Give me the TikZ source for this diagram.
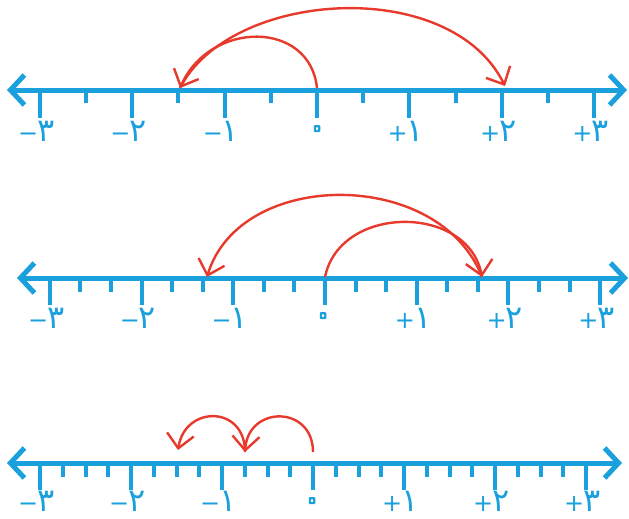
\documentclass[tikz,border=0pt]{standalone}
\usepackage{fontspec}
\usetikzlibrary{arrows.meta}
\newfontfamily\arfont[Script=Arabic]{DejaVu Sans}
\newfontfamily\signfont{DejaVu Sans}
\definecolor{axblue}{RGB}{26,160,220}
\definecolor{arcred}{RGB}{232,58,44}
\newcommand\dig[1]{{\arfont\fontsize{32}{32}\selectfont #1}}
\newcommand\hollowzero{\special{pdf:literal direct 1 Tr 1 j 2.2 w}{\arfont\fontsize{40}{40}\selectfont ٠}\special{pdf:literal direct 0 Tr 0 j}}
\tikzset{
  axisline/.style={draw=axblue, line width=5pt,
    {Straight Barb[length=14pt,width=30pt]}-{Straight Barb[length=14pt,width=30pt]}},
  tickline/.style={draw=axblue, line width=4pt},
  lab/.style={text=axblue, font=\signfont\fontsize{24}{24}\selectfont, inner sep=0pt, anchor=base west},
  zlab/.style={text=axblue, inner sep=0pt, anchor=center},
  jump/.style={draw=arcred, line width=2.4pt, -{Straight Barb[length=14pt,width=27pt]}}
}
\begin{document}
\begin{tikzpicture}[x=1pt,y=-1pt]
\useasboundingbox (0,0) rectangle (629,519);

% ---------- line 1 (halves) ----------
\coordinate (A1) at (7,90);
\coordinate (B1) at (627,90);
\draw[axisline] (A1) -- (B1);
\foreach \i in {-3,...,3} \draw[tickline] (317+92.4*\i,90) -- ++(0,28);
\foreach \i in {-2.5,-1.5,...,2.5} \draw[tickline] (317+92.4*\i,90) -- ++(0,13);
\foreach \i/\s/\t in {-3/−/٣,-2/−/٢,-1/−/١,1/+/١,2/+/٢,3/+/٣}
  \node[lab] (p\i) at (317+92.4*\i-22,141) {\s\hspace{-1pt}\dig{\t}};
\node[zlab] (p0) at (317,133) {\hollowzero};
\coordinate (s1) at (317,88);
\coordinate (m1) at (180,88);
\coordinate (e1) at (505,86);
\draw[jump] (s1) .. controls (310,20) and (210,20) .. (m1);
\draw[jump] (m1) .. controls (230,-10) and (450,-25) .. (e1);

% ---------- line 2 (thirds) ----------
\coordinate (A2) at (17,278);
\coordinate (B2) at (628,278);
\draw[axisline] (A2) -- (B2);
\foreach \i in {-3,...,3} \draw[tickline] (325+91.7*\i,278) -- ++(0,27);
\foreach \i in {-3,...,2} {
  \draw[tickline] (325+91.7*\i+30.57,278) -- ++(0,14);
  \draw[tickline] (325+91.7*\i+61.13,278) -- ++(0,14);
}
\foreach \i/\s/\t in {-3/−/٣,-2/−/٢,-1/−/١,1/+/١,2/+/٢,3/+/٣}
  \node[lab] (q\i) at (325+91.7*\i-22,328) {\s\hspace{-1pt}\dig{\t}};
\node[zlab] (q0) at (323,320) {\hollowzero};
\coordinate (s2) at (325,277);
\coordinate (m2) at (482,277);
\coordinate (e2) at (207,277);
\draw[jump] (s2) .. controls (340,204) and (468,204) .. (m2);
\draw[jump] (m2) .. controls (440,168) and (240,168) .. (e2);

% ---------- line 3 (quarters) ----------
\coordinate (A3) at (7,463);
\coordinate (B3) at (622,463);
\draw[axisline] (A3) -- (B3);
\foreach \i in {-3,...,3} \draw[tickline] (313+91*\i,463) -- ++(0,27);
\foreach \i in {-3,...,2} {
  \draw[tickline] (313+91*\i+22.75,463) -- ++(0,14);
  \draw[tickline] (313+91*\i+45.5,463) -- ++(0,14);
  \draw[tickline] (313+91*\i+68.25,463) -- ++(0,14);
}
\foreach \i/\s/\t in {-3/−/٣,-2/−/٢,-1/−/١,1/+/١,2/+/٢,3/+/٣}
  \node[lab] (r\i) at (313+91*\i-22,511) {\s\hspace{-1pt}\dig{\t}};
\node[zlab] (r0) at (312,505) {\hollowzero};
\coordinate (s3) at (313,452);
\coordinate (m3) at (245,452);
\coordinate (e3) at (178,450);
\draw[jump] (s3) .. controls (313,405) and (248,405) .. (m3);
\draw[jump] (m3) .. controls (245,405) and (185,405) .. (e3);
\end{tikzpicture}
\end{document}
